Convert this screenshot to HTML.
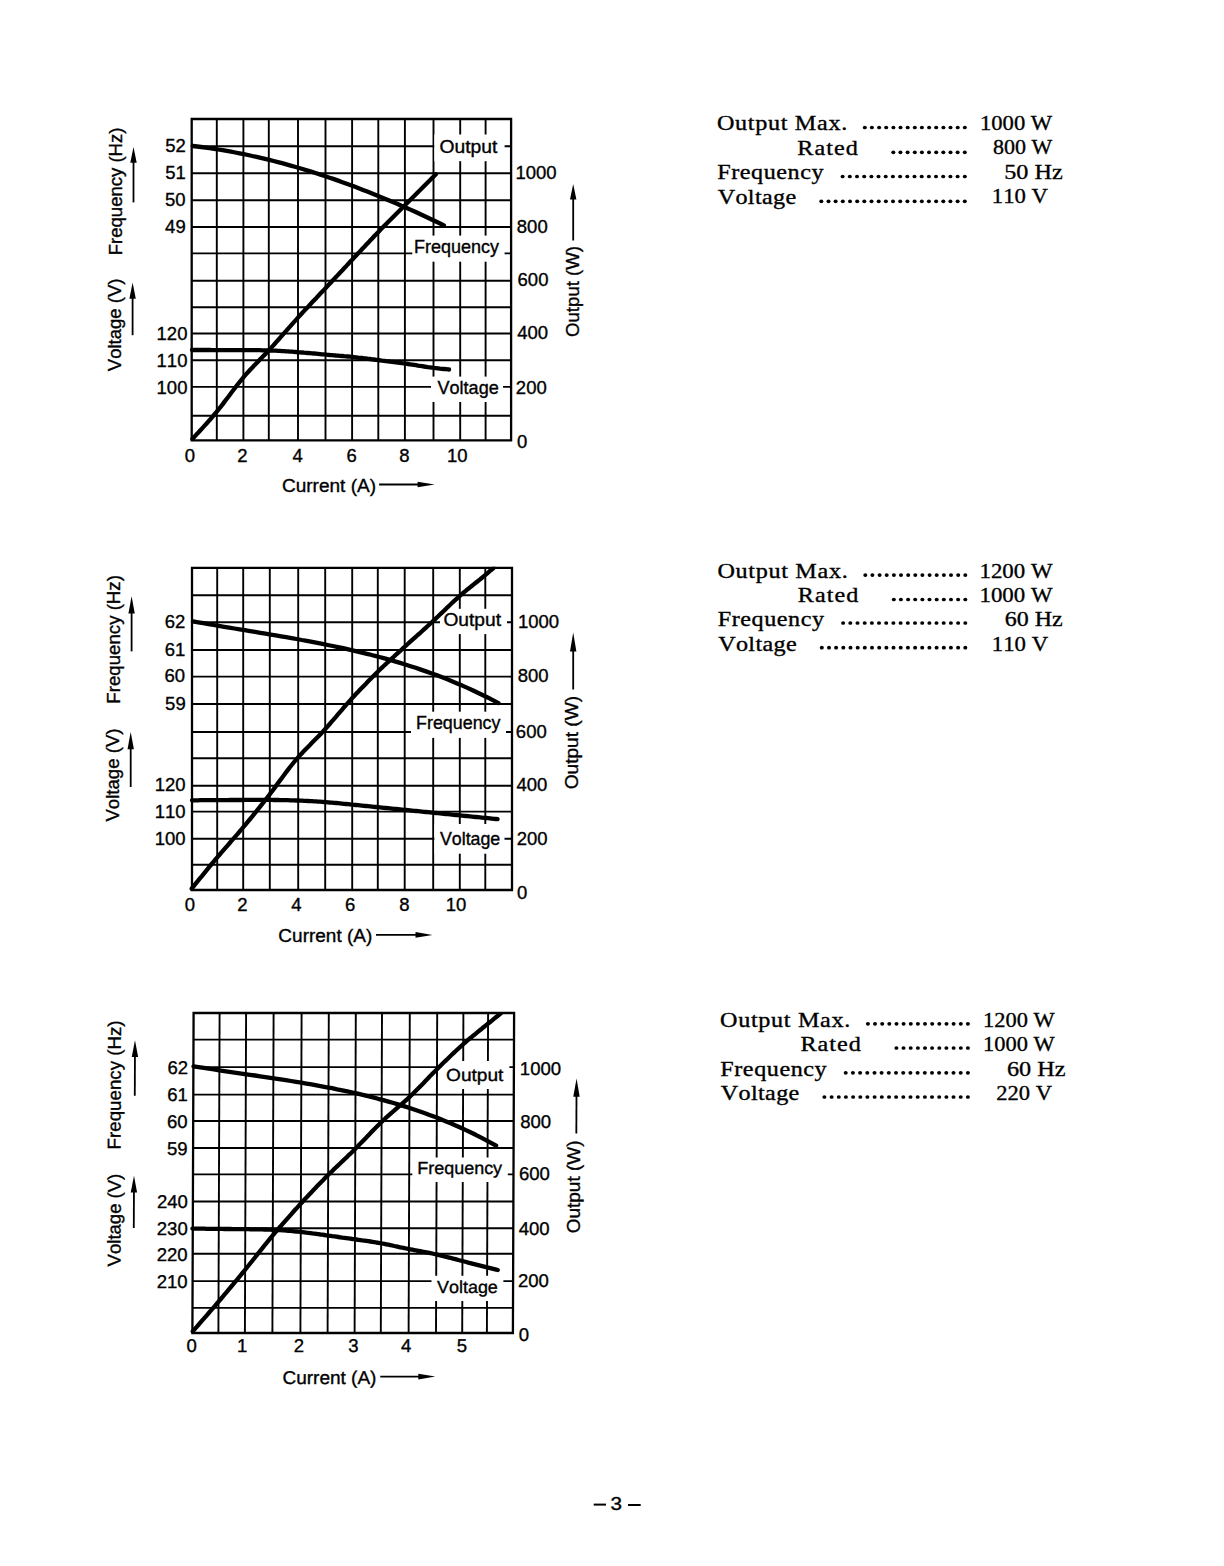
<!DOCTYPE html>
<html><head><meta charset="utf-8"><style>
html,body{margin:0;padding:0;background:#fff;}
svg{display:block;}
text{font-kerning:none;}
</style></head><body>
<svg width="1224" height="1566" viewBox="0 0 1224 1566">
<rect x="0" y="0" width="1224" height="1566" fill="#fff"/>
<g>
<line x1="216.80" y1="119.00" x2="216.80" y2="440.30" stroke="#000" stroke-width="1.9"/>
<line x1="243.40" y1="119.00" x2="243.40" y2="440.30" stroke="#000" stroke-width="1.9"/>
<line x1="268.80" y1="119.00" x2="268.80" y2="440.30" stroke="#000" stroke-width="1.9"/>
<line x1="298.00" y1="119.00" x2="298.00" y2="440.30" stroke="#000" stroke-width="1.9"/>
<line x1="325.50" y1="119.00" x2="325.50" y2="440.30" stroke="#000" stroke-width="1.9"/>
<line x1="352.10" y1="119.00" x2="352.10" y2="440.30" stroke="#000" stroke-width="1.9"/>
<line x1="378.30" y1="119.00" x2="378.30" y2="440.30" stroke="#000" stroke-width="1.9"/>
<line x1="404.90" y1="119.00" x2="404.90" y2="440.30" stroke="#000" stroke-width="1.9"/>
<line x1="433.50" y1="119.00" x2="433.50" y2="440.30" stroke="#000" stroke-width="1.9"/>
<line x1="460.20" y1="119.00" x2="460.20" y2="440.30" stroke="#000" stroke-width="1.9"/>
<line x1="485.60" y1="119.00" x2="485.60" y2="440.30" stroke="#000" stroke-width="1.9"/>
<line x1="191.70" y1="146.20" x2="511.10" y2="146.20" stroke="#000" stroke-width="1.9"/>
<line x1="191.70" y1="173.30" x2="511.10" y2="173.30" stroke="#000" stroke-width="1.9"/>
<line x1="191.70" y1="200.20" x2="511.10" y2="200.20" stroke="#000" stroke-width="1.9"/>
<line x1="191.70" y1="227.00" x2="511.10" y2="227.00" stroke="#000" stroke-width="1.9"/>
<line x1="191.70" y1="253.40" x2="511.10" y2="253.40" stroke="#000" stroke-width="1.9"/>
<line x1="191.70" y1="280.70" x2="511.10" y2="280.70" stroke="#000" stroke-width="1.9"/>
<line x1="191.70" y1="307.30" x2="511.10" y2="307.30" stroke="#000" stroke-width="1.9"/>
<line x1="191.70" y1="333.50" x2="511.10" y2="333.50" stroke="#000" stroke-width="1.9"/>
<line x1="191.70" y1="360.30" x2="511.10" y2="360.30" stroke="#000" stroke-width="1.9"/>
<line x1="191.70" y1="386.90" x2="511.10" y2="386.90" stroke="#000" stroke-width="1.9"/>
<line x1="191.70" y1="415.70" x2="511.10" y2="415.70" stroke="#000" stroke-width="1.9"/>
<path d="M191.7,119 L511.1,119 L511.1,440.3 L191.7,440.3 Z" fill="none" stroke="#000" stroke-width="2.3"/>
<rect x="434.3" y="134.5" width="70.3" height="26.7" fill="#fff"/>
<rect x="412.3" y="235.6" width="92.3" height="26.1" fill="#fff"/>
<rect x="431.0" y="376.6" width="72.0" height="25.4" fill="#fff"/>
<path d="M192.7,146.0 L197.0,146.5 L201.2,147.0 L205.5,147.6 L209.7,148.2 L214.0,148.8 L218.2,149.5 L222.5,150.2 L226.8,150.9 L231.0,151.7 L235.3,152.5 L239.5,153.3 L243.8,154.2 L248.0,155.0 L252.3,156.0 L256.6,156.9 L260.8,157.9 L265.1,158.9 L269.3,159.9 L273.6,161.0 L277.9,162.1 L282.1,163.2 L286.4,164.4 L290.6,165.6 L294.9,166.8 L299.1,168.0 L303.4,169.3 L307.7,170.6 L311.9,171.9 L316.2,173.3 L320.4,174.6 L324.7,176.0 L328.9,177.5 L333.2,178.9 L337.5,180.4 L341.7,181.9 L346.0,183.5 L350.2,185.0 L354.5,186.6 L358.7,188.2 L363.0,189.9 L367.3,191.5 L371.5,193.2 L375.8,194.9 L380.0,196.7 L384.3,198.4 L388.6,200.2 L392.8,202.0 L397.1,203.8 L401.3,205.7 L405.6,207.5 L409.8,209.4 L414.1,211.3 L418.4,213.3 L422.6,215.2 L426.9,217.2 L431.1,219.2 L435.4,221.3 L439.6,223.3 L443.9,225.4" fill="none" stroke="#000" stroke-width="4.3" stroke-linecap="round" stroke-linejoin="round"/>
<clipPath id="clip119"><rect x="181.7" y="118.0" width="339.40000000000003" height="333.3"/></clipPath>
<g clip-path="url(#clip119)">
<path d="M192.4,439.0 L194.4,436.8 L196.4,434.6 L198.4,432.5 L200.4,430.3 L202.4,428.1 L204.4,425.9 L206.4,423.7 L208.4,421.4 L210.4,419.2 L212.4,416.9 L214.4,414.5 L216.4,412.1 L218.4,409.6 L220.4,407.1 L222.4,404.6 L224.4,401.9 L226.4,399.3 L228.4,396.7 L230.4,394.0 L232.4,391.3 L234.4,388.7 L236.4,386.1 L238.4,383.5 L240.4,381.0 L242.4,378.6 L244.4,376.2 L246.4,373.9 L248.4,371.7 L250.4,369.5 L252.4,367.4 L254.4,365.3 L256.4,363.3 L258.4,361.2 L260.4,359.1 L262.4,357.1 L264.4,355.0 L266.4,352.9 L268.4,350.7 L270.4,348.6 L272.4,346.4 L274.4,344.2 L276.4,341.9 L278.4,339.7 L280.4,337.4 L282.4,335.1 L284.4,332.9 L286.4,330.6 L288.4,328.3 L290.4,326.1 L292.4,323.8 L294.4,321.6 L296.4,319.4 L298.4,317.1 L300.4,315.0 L302.4,312.8 L304.4,310.6 L306.4,308.5 L308.4,306.4 L310.4,304.2 L312.4,302.1 L314.4,300.0 L316.4,297.9 L318.4,295.7 L320.4,293.6 L322.4,291.5 L324.4,289.4 L326.4,287.2 L328.4,285.1 L330.4,283.0 L332.4,280.8 L334.4,278.7 L336.4,276.6 L338.4,274.4 L340.4,272.3 L342.4,270.2 L344.4,268.0 L346.4,265.9 L348.4,263.7 L350.4,261.6 L352.4,259.5 L354.4,257.3 L356.4,255.2 L358.4,253.1 L360.4,250.9 L362.4,248.8 L364.4,246.7 L366.4,244.5 L368.4,242.4 L370.4,240.3 L372.4,238.2 L374.4,236.0 L376.4,234.0 L378.4,231.9 L380.4,229.8 L382.4,227.8 L384.4,225.7 L386.4,223.7 L388.4,221.7 L390.4,219.7 L392.4,217.7 L394.4,215.7 L396.4,213.7 L398.4,211.7 L400.4,209.7 L402.4,207.7 L404.4,205.7 L406.4,203.7 L408.4,201.7 L410.4,199.7 L412.4,197.7 L414.4,195.7 L416.4,193.7 L418.4,191.7 L420.4,189.8 L422.4,187.8 L424.4,185.8 L426.4,183.8 L428.4,181.8 L430.4,179.8 L432.4,177.7 L434.4,175.7 L435.9,174.2" fill="none" stroke="#000" stroke-width="4.3" stroke-linecap="round" stroke-linejoin="round"/>
</g>
<path d="M192.0,350.0 L194.0,350.0 L196.0,350.0 L198.0,350.0 L200.0,350.0 L202.0,350.0 L204.0,350.0 L206.0,350.0 L208.0,350.0 L210.0,350.0 L212.0,350.1 L214.0,350.1 L216.0,350.1 L218.0,350.1 L220.0,350.1 L222.0,350.1 L224.0,350.1 L226.0,350.1 L228.0,350.1 L230.0,350.1 L232.0,350.1 L234.0,350.1 L236.0,350.1 L238.0,350.1 L240.0,350.1 L242.0,350.1 L244.0,350.1 L246.0,350.1 L248.0,350.1 L250.0,350.2 L252.0,350.2 L254.0,350.2 L256.0,350.2 L258.0,350.2 L260.0,350.2 L262.0,350.3 L264.0,350.3 L266.0,350.4 L268.0,350.4 L270.0,350.5 L272.0,350.6 L274.0,350.6 L276.0,350.7 L278.0,350.8 L280.0,350.9 L282.0,351.1 L284.0,351.2 L286.0,351.3 L288.0,351.4 L290.0,351.6 L292.0,351.7 L294.0,351.8 L296.0,352.0 L298.0,352.2 L300.0,352.3 L302.0,352.5 L304.0,352.7 L306.0,352.8 L308.0,353.0 L310.0,353.2 L312.0,353.4 L314.0,353.5 L316.0,353.7 L318.0,353.9 L320.0,354.1 L322.0,354.3 L324.0,354.4 L326.0,354.6 L328.0,354.8 L330.0,355.0 L332.0,355.1 L334.0,355.3 L336.0,355.5 L338.0,355.6 L340.0,355.8 L342.0,356.0 L344.0,356.2 L346.0,356.3 L348.0,356.5 L350.0,356.7 L352.0,356.9 L354.0,357.1 L356.0,357.3 L358.0,357.6 L360.0,357.8 L362.0,358.0 L364.0,358.3 L366.0,358.5 L368.0,358.8 L370.0,359.0 L372.0,359.3 L374.0,359.5 L376.0,359.8 L378.0,360.0 L380.0,360.3 L382.0,360.6 L384.0,360.8 L386.0,361.1 L388.0,361.3 L390.0,361.6 L392.0,361.8 L394.0,362.1 L396.0,362.3 L398.0,362.6 L400.0,362.9 L402.0,363.2 L404.0,363.4 L406.0,363.7 L408.0,364.0 L410.0,364.3 L412.0,364.6 L414.0,364.9 L416.0,365.2 L418.0,365.6 L420.0,365.9 L422.0,366.2 L424.0,366.5 L426.0,366.8 L428.0,367.1 L430.0,367.3 L432.0,367.6 L434.0,367.9 L436.0,368.1 L438.0,368.3 L440.0,368.6 L442.0,368.8 L444.0,369.0 L446.0,369.2 L448.0,369.4 L449.0,369.5" fill="none" stroke="#000" stroke-width="4.3" stroke-linecap="round" stroke-linejoin="round"/>
<text transform="translate(439.49 152.90) scale(1.1013 1)" font-family='"Liberation Sans", sans-serif' font-weight="normal" font-size="17.5" letter-spacing="0.000" stroke="#000" stroke-width="0.35">Output</text>
<text transform="translate(414.03 252.70) scale(1.0270 1)" font-family='"Liberation Sans", sans-serif' font-weight="normal" font-size="17.5" letter-spacing="0.000" stroke="#000" stroke-width="0.35">Frequency</text>
<text transform="translate(437.52 393.80) scale(1.0325 1)" font-family='"Liberation Sans", sans-serif' font-weight="normal" font-size="17.5" letter-spacing="0.000" stroke="#000" stroke-width="0.35">Voltage</text>
<text transform="translate(165.15 152.46) scale(1.0000 1)" font-family='"Liberation Sans", sans-serif' font-weight="normal" font-size="18.5" letter-spacing="0.000" stroke="#000" stroke-width="0.35">52</text>
<text transform="translate(165.13 179.36) scale(1.0000 1)" font-family='"Liberation Sans", sans-serif' font-weight="normal" font-size="18.5" letter-spacing="0.000" stroke="#000" stroke-width="0.35">51</text>
<text transform="translate(164.95 206.46) scale(1.0000 1)" font-family='"Liberation Sans", sans-serif' font-weight="normal" font-size="18.5" letter-spacing="0.000" stroke="#000" stroke-width="0.35">50</text>
<text transform="translate(165.10 233.46) scale(1.0000 1)" font-family='"Liberation Sans", sans-serif' font-weight="normal" font-size="18.5" letter-spacing="0.000" stroke="#000" stroke-width="0.35">49</text>
<text transform="translate(156.56 340.26) scale(1.0000 1)" font-family='"Liberation Sans", sans-serif' font-weight="normal" font-size="18.5" letter-spacing="0.000" stroke="#000" stroke-width="0.35">120</text>
<text transform="translate(156.56 366.56) scale(1.0000 1)" font-family='"Liberation Sans", sans-serif' font-weight="normal" font-size="18.5" letter-spacing="0.000" stroke="#000" stroke-width="0.35">110</text>
<text transform="translate(156.56 393.86) scale(1.0000 1)" font-family='"Liberation Sans", sans-serif' font-weight="normal" font-size="18.5" letter-spacing="0.000" stroke="#000" stroke-width="0.35">100</text>
<text transform="translate(515.39 179.46) scale(1.0000 1)" font-family='"Liberation Sans", sans-serif' font-weight="normal" font-size="18.5" letter-spacing="0.000" stroke="#000" stroke-width="0.35">1000</text>
<text transform="translate(516.80 233.46) scale(1.0000 1)" font-family='"Liberation Sans", sans-serif' font-weight="normal" font-size="18.5" letter-spacing="0.000" stroke="#000" stroke-width="0.35">800</text>
<text transform="translate(517.56 286.46) scale(1.0000 1)" font-family='"Liberation Sans", sans-serif' font-weight="normal" font-size="18.5" letter-spacing="0.000" stroke="#000" stroke-width="0.35">600</text>
<text transform="translate(517.18 339.46) scale(1.0000 1)" font-family='"Liberation Sans", sans-serif' font-weight="normal" font-size="18.5" letter-spacing="0.000" stroke="#000" stroke-width="0.35">400</text>
<text transform="translate(515.87 394.46) scale(1.0000 1)" font-family='"Liberation Sans", sans-serif' font-weight="normal" font-size="18.5" letter-spacing="0.000" stroke="#000" stroke-width="0.35">200</text>
<text transform="translate(516.88 448.46) scale(1.0000 1)" font-family='"Liberation Sans", sans-serif' font-weight="normal" font-size="18.5" letter-spacing="0.000" stroke="#000" stroke-width="0.35">0</text>
<text transform="translate(184.66 462.00) scale(1.0000 1)" font-family='"Liberation Sans", sans-serif' font-weight="normal" font-size="18.5" letter-spacing="0.000" stroke="#000" stroke-width="0.35">0</text>
<text transform="translate(237.36 461.50) scale(1.0000 1)" font-family='"Liberation Sans", sans-serif' font-weight="normal" font-size="18.5" letter-spacing="0.000" stroke="#000" stroke-width="0.35">2</text>
<text transform="translate(292.51 461.50) scale(1.0000 1)" font-family='"Liberation Sans", sans-serif' font-weight="normal" font-size="18.5" letter-spacing="0.000" stroke="#000" stroke-width="0.35">4</text>
<text transform="translate(346.39 461.50) scale(1.0000 1)" font-family='"Liberation Sans", sans-serif' font-weight="normal" font-size="18.5" letter-spacing="0.000" stroke="#000" stroke-width="0.35">6</text>
<text transform="translate(399.16 461.50) scale(1.0000 1)" font-family='"Liberation Sans", sans-serif' font-weight="normal" font-size="18.5" letter-spacing="0.000" stroke="#000" stroke-width="0.35">8</text>
<text transform="translate(446.97 461.50) scale(1.0000 1)" font-family='"Liberation Sans", sans-serif' font-weight="normal" font-size="18.5" letter-spacing="0.000" stroke="#000" stroke-width="0.35">10</text>
<text transform="translate(121.80 255.22) rotate(-90) scale(1.0015 1)" font-family='"Liberation Sans", sans-serif' font-size="18.5" stroke="#000" stroke-width="0.35">Frequency (Hz)</text>
<text transform="translate(120.80 371.18) rotate(-90) scale(1.0020 1)" font-family='"Liberation Sans", sans-serif' font-size="18.5" stroke="#000" stroke-width="0.35">Voltage (V)</text>
<text transform="translate(578.80 336.98) rotate(-90) scale(1.0075 1)" font-family='"Liberation Sans", sans-serif' font-size="18.5" stroke="#000" stroke-width="0.35">Output (W)</text>
<line x1="133.50" y1="160.70" x2="133.50" y2="202.40" stroke="#000" stroke-width="1.8"/>
<path d="M133.5,146.9 L136.7,162.7 L130.3,162.7 Z" fill="#000"/>
<line x1="132.60" y1="296.80" x2="132.60" y2="335.20" stroke="#000" stroke-width="1.8"/>
<path d="M132.6,282.5 L135.8,298.8 L129.4,298.8 Z" fill="#000"/>
<line x1="573.20" y1="197.60" x2="573.20" y2="240.50" stroke="#000" stroke-width="1.8"/>
<path d="M573.2,184.1 L576.4,199.6 L570.0,199.6 Z" fill="#000"/>
<text transform="translate(281.93 491.50) scale(1.0291 1)" font-family='"Liberation Sans", sans-serif' font-weight="normal" font-size="18.5" letter-spacing="0.000" stroke="#000" stroke-width="0.35">Current (A)</text>
<line x1="379.10" y1="484.50" x2="424.60" y2="484.50" stroke="#000" stroke-width="1.8"/>
<path d="M434.6,484.5 L417.6,481.7 L417.6,487.3 Z" fill="#000"/>
</g>
<g>
<line x1="217.20" y1="567.80" x2="217.20" y2="890.00" stroke="#000" stroke-width="1.9"/>
<line x1="243.20" y1="567.80" x2="243.20" y2="890.00" stroke="#000" stroke-width="1.9"/>
<line x1="269.80" y1="567.80" x2="269.80" y2="890.00" stroke="#000" stroke-width="1.9"/>
<line x1="298.20" y1="567.80" x2="298.20" y2="890.00" stroke="#000" stroke-width="1.9"/>
<line x1="325.20" y1="567.80" x2="325.20" y2="890.00" stroke="#000" stroke-width="1.9"/>
<line x1="352.20" y1="567.80" x2="352.20" y2="890.00" stroke="#000" stroke-width="1.9"/>
<line x1="377.80" y1="567.80" x2="377.80" y2="890.00" stroke="#000" stroke-width="1.9"/>
<line x1="404.70" y1="567.80" x2="404.70" y2="890.00" stroke="#000" stroke-width="1.9"/>
<line x1="433.20" y1="567.80" x2="433.20" y2="890.00" stroke="#000" stroke-width="1.9"/>
<line x1="459.80" y1="567.80" x2="459.80" y2="890.00" stroke="#000" stroke-width="1.9"/>
<line x1="485.30" y1="567.80" x2="485.30" y2="890.00" stroke="#000" stroke-width="1.9"/>
<line x1="192.00" y1="595.30" x2="512.00" y2="595.30" stroke="#000" stroke-width="1.9"/>
<line x1="192.00" y1="622.20" x2="512.00" y2="622.20" stroke="#000" stroke-width="1.9"/>
<line x1="192.00" y1="650.00" x2="512.00" y2="650.00" stroke="#000" stroke-width="1.9"/>
<line x1="192.00" y1="676.60" x2="512.00" y2="676.60" stroke="#000" stroke-width="1.9"/>
<line x1="192.00" y1="704.00" x2="512.00" y2="704.00" stroke="#000" stroke-width="1.9"/>
<line x1="192.00" y1="732.00" x2="512.00" y2="732.00" stroke="#000" stroke-width="1.9"/>
<line x1="192.00" y1="758.20" x2="512.00" y2="758.20" stroke="#000" stroke-width="1.9"/>
<line x1="192.00" y1="785.70" x2="512.00" y2="785.70" stroke="#000" stroke-width="1.9"/>
<line x1="192.00" y1="811.60" x2="512.00" y2="811.60" stroke="#000" stroke-width="1.9"/>
<line x1="192.00" y1="838.70" x2="512.00" y2="838.70" stroke="#000" stroke-width="1.9"/>
<line x1="192.00" y1="864.70" x2="512.00" y2="864.70" stroke="#000" stroke-width="1.9"/>
<path d="M192,567.8 L512,567.8 L512,890 L192,890 Z" fill="none" stroke="#000" stroke-width="2.3"/>
<rect x="440.0" y="608.8" width="67.0" height="25.3" fill="#fff"/>
<rect x="411.0" y="711.7" width="95.0" height="26.2" fill="#fff"/>
<rect x="434.4" y="824.0" width="70.1" height="29.7" fill="#fff"/>
<path d="M193.0,621.4 L198.2,622.3 L203.4,623.2 L208.5,624.1 L213.7,625.0 L218.9,625.9 L224.1,626.8 L229.2,627.6 L234.4,628.5 L239.6,629.4 L244.8,630.2 L250.0,631.1 L255.1,631.9 L260.3,632.8 L265.5,633.7 L270.7,634.5 L275.8,635.4 L281.0,636.3 L286.2,637.2 L291.4,638.1 L296.6,639.0 L301.7,640.0 L306.9,640.9 L312.1,641.9 L317.3,642.9 L322.4,643.9 L327.6,645.0 L332.8,646.0 L338.0,647.1 L343.2,648.2 L348.3,649.4 L353.5,650.6 L358.7,651.8 L363.9,653.1 L369.1,654.3 L374.2,655.7 L379.4,657.0 L384.6,658.4 L389.8,659.9 L394.9,661.4 L400.1,662.9 L405.3,664.5 L410.5,666.2 L415.7,667.8 L420.8,669.6 L426.0,671.4 L431.2,673.2 L436.4,675.1 L441.5,677.1 L446.7,679.1 L451.9,681.2 L457.1,683.4 L462.3,685.6 L467.4,687.9 L472.6,690.2 L477.8,692.7 L483.0,695.2 L488.1,697.7 L493.3,700.4 L498.5,703.1" fill="none" stroke="#000" stroke-width="4.3" stroke-linecap="round" stroke-linejoin="round"/>
<clipPath id="clip567"><rect x="182" y="566.8" width="340" height="334.20000000000005"/></clipPath>
<g clip-path="url(#clip567)">
<path d="M191.7,888.7 L193.7,886.2 L195.7,883.7 L197.7,881.2 L199.7,878.7 L201.7,876.3 L203.7,873.8 L205.7,871.3 L207.7,868.9 L209.7,866.4 L211.7,864.0 L213.7,861.6 L215.7,859.2 L217.7,856.9 L219.7,854.5 L221.7,852.2 L223.7,849.9 L225.7,847.6 L227.7,845.3 L229.7,843.0 L231.7,840.7 L233.7,838.4 L235.7,836.1 L237.7,833.8 L239.7,831.4 L241.7,829.1 L243.7,826.7 L245.7,824.3 L247.7,821.9 L249.7,819.5 L251.7,817.1 L253.7,814.6 L255.7,812.2 L257.7,809.7 L259.7,807.2 L261.7,804.7 L263.7,802.2 L265.7,799.6 L267.7,797.0 L269.7,794.4 L271.7,791.7 L273.7,789.1 L275.7,786.4 L277.7,783.6 L279.7,780.9 L281.7,778.2 L283.7,775.5 L285.7,772.8 L287.7,770.1 L289.7,767.5 L291.7,765.0 L293.7,762.5 L295.7,760.1 L297.7,757.8 L299.7,755.5 L301.7,753.4 L303.7,751.3 L305.7,749.2 L307.7,747.2 L309.7,745.2 L311.7,743.1 L313.7,741.1 L315.7,739.1 L317.7,737.1 L319.7,735.0 L321.7,732.9 L323.7,730.7 L325.7,728.5 L327.7,726.3 L329.7,724.0 L331.7,721.7 L333.7,719.4 L335.7,717.1 L337.7,714.7 L339.7,712.4 L341.7,710.1 L343.7,707.7 L345.7,705.4 L347.7,703.1 L349.7,700.9 L351.7,698.6 L353.7,696.5 L355.7,694.3 L357.7,692.2 L359.7,690.1 L361.7,688.0 L363.7,685.9 L365.7,683.9 L367.7,681.8 L369.7,679.8 L371.7,677.7 L373.7,675.7 L375.7,673.7 L377.7,671.8 L379.7,669.8 L381.7,667.9 L383.7,666.0 L385.7,664.2 L387.7,662.3 L389.7,660.5 L391.7,658.6 L393.7,656.8 L395.7,654.9 L397.7,653.1 L399.7,651.3 L401.7,649.5 L403.7,647.7 L405.7,645.8 L407.7,644.0 L409.7,642.2 L411.7,640.4 L413.7,638.6 L415.7,636.8 L417.7,635.0 L419.7,633.3 L421.7,631.5 L423.7,629.7 L425.7,627.9 L427.7,626.0 L429.7,624.2 L431.7,622.4 L433.7,620.5 L435.7,618.6 L437.7,616.7 L439.7,614.8 L441.7,612.9 L443.7,611.0 L445.7,609.1 L447.7,607.1 L449.7,605.2 L451.7,603.3 L453.7,601.4 L455.7,599.6 L457.7,597.8 L459.7,596.0 L461.7,594.2 L463.7,592.5 L465.7,590.9 L467.7,589.2 L469.7,587.6 L471.7,586.0 L473.7,584.4 L475.7,582.8 L477.7,581.2 L479.7,579.6 L481.7,578.0 L483.7,576.3 L485.7,574.6 L487.7,573.0 L489.7,571.2 L491.7,569.5 L493.7,567.8" fill="none" stroke="#000" stroke-width="4.3" stroke-linecap="round" stroke-linejoin="round"/>
</g>
<path d="M192.0,800.3 L194.0,800.3 L196.0,800.3 L198.0,800.3 L200.0,800.2 L202.0,800.2 L204.0,800.2 L206.0,800.2 L208.0,800.2 L210.0,800.2 L212.0,800.2 L214.0,800.2 L216.0,800.1 L218.0,800.1 L220.0,800.1 L222.0,800.1 L224.0,800.1 L226.0,800.1 L228.0,800.1 L230.0,800.0 L232.0,800.0 L234.0,800.0 L236.0,800.0 L238.0,800.0 L240.0,800.0 L242.0,800.0 L244.0,799.9 L246.0,799.9 L248.0,799.9 L250.0,799.9 L252.0,799.9 L254.0,799.9 L256.0,799.9 L258.0,799.9 L260.0,799.9 L262.0,799.9 L264.0,799.9 L266.0,799.9 L268.0,799.9 L270.0,799.9 L272.0,799.9 L274.0,800.0 L276.0,800.0 L278.0,800.0 L280.0,800.1 L282.0,800.1 L284.0,800.1 L286.0,800.2 L288.0,800.2 L290.0,800.3 L292.0,800.3 L294.0,800.4 L296.0,800.5 L298.0,800.5 L300.0,800.6 L302.0,800.7 L304.0,800.8 L306.0,800.9 L308.0,801.0 L310.0,801.1 L312.0,801.2 L314.0,801.3 L316.0,801.4 L318.0,801.6 L320.0,801.7 L322.0,801.8 L324.0,802.0 L326.0,802.1 L328.0,802.3 L330.0,802.5 L332.0,802.6 L334.0,802.8 L336.0,803.0 L338.0,803.2 L340.0,803.4 L342.0,803.6 L344.0,803.8 L346.0,804.0 L348.0,804.2 L350.0,804.4 L352.0,804.6 L354.0,804.8 L356.0,805.0 L358.0,805.2 L360.0,805.4 L362.0,805.6 L364.0,805.8 L366.0,806.0 L368.0,806.2 L370.0,806.4 L372.0,806.6 L374.0,806.8 L376.0,807.0 L378.0,807.2 L380.0,807.4 L382.0,807.6 L384.0,807.8 L386.0,808.0 L388.0,808.2 L390.0,808.4 L392.0,808.6 L394.0,808.8 L396.0,809.0 L398.0,809.2 L400.0,809.4 L402.0,809.6 L404.0,809.8 L406.0,810.0 L408.0,810.2 L410.0,810.4 L412.0,810.6 L414.0,810.8 L416.0,811.0 L418.0,811.2 L420.0,811.4 L422.0,811.6 L424.0,811.8 L426.0,812.0 L428.0,812.2 L430.0,812.4 L432.0,812.6 L434.0,812.8 L436.0,813.0 L438.0,813.2 L440.0,813.4 L442.0,813.6 L444.0,813.8 L446.0,814.0 L448.0,814.2 L450.0,814.4 L452.0,814.6 L454.0,814.8 L456.0,815.0 L458.0,815.2 L460.0,815.4 L462.0,815.6 L464.0,815.8 L466.0,816.0 L468.0,816.2 L470.0,816.4 L472.0,816.6 L474.0,816.8 L476.0,817.0 L478.0,817.2 L480.0,817.4 L482.0,817.6 L484.0,817.8 L486.0,818.0 L488.0,818.2 L490.0,818.4 L492.0,818.6 L494.0,818.8 L496.0,819.0 L497.5,819.2" fill="none" stroke="#000" stroke-width="4.3" stroke-linecap="round" stroke-linejoin="round"/>
<text transform="translate(443.39 626.20) scale(1.0974 1)" font-family='"Liberation Sans", sans-serif' font-weight="normal" font-size="17.5" letter-spacing="0.000" stroke="#000" stroke-width="0.35">Output</text>
<text transform="translate(416.03 728.90) scale(1.0220 1)" font-family='"Liberation Sans", sans-serif' font-weight="normal" font-size="17.5" letter-spacing="0.000" stroke="#000" stroke-width="0.35">Frequency</text>
<text transform="translate(439.92 844.60) scale(1.0171 1)" font-family='"Liberation Sans", sans-serif' font-weight="normal" font-size="17.5" letter-spacing="0.000" stroke="#000" stroke-width="0.35">Voltage</text>
<text transform="translate(164.65 628.46) scale(1.0000 1)" font-family='"Liberation Sans", sans-serif' font-weight="normal" font-size="18.5" letter-spacing="0.000" stroke="#000" stroke-width="0.35">62</text>
<text transform="translate(164.63 655.66) scale(1.0000 1)" font-family='"Liberation Sans", sans-serif' font-weight="normal" font-size="18.5" letter-spacing="0.000" stroke="#000" stroke-width="0.35">61</text>
<text transform="translate(164.45 682.36) scale(1.0000 1)" font-family='"Liberation Sans", sans-serif' font-weight="normal" font-size="18.5" letter-spacing="0.000" stroke="#000" stroke-width="0.35">60</text>
<text transform="translate(165.10 710.06) scale(1.0000 1)" font-family='"Liberation Sans", sans-serif' font-weight="normal" font-size="18.5" letter-spacing="0.000" stroke="#000" stroke-width="0.35">59</text>
<text transform="translate(154.66 791.16) scale(1.0000 1)" font-family='"Liberation Sans", sans-serif' font-weight="normal" font-size="18.5" letter-spacing="0.000" stroke="#000" stroke-width="0.35">120</text>
<text transform="translate(154.66 817.96) scale(1.0000 1)" font-family='"Liberation Sans", sans-serif' font-weight="normal" font-size="18.5" letter-spacing="0.000" stroke="#000" stroke-width="0.35">110</text>
<text transform="translate(154.66 844.76) scale(1.0000 1)" font-family='"Liberation Sans", sans-serif' font-weight="normal" font-size="18.5" letter-spacing="0.000" stroke="#000" stroke-width="0.35">100</text>
<text transform="translate(517.89 628.46) scale(1.0000 1)" font-family='"Liberation Sans", sans-serif' font-weight="normal" font-size="18.5" letter-spacing="0.000" stroke="#000" stroke-width="0.35">1000</text>
<text transform="translate(517.70 682.36) scale(1.0000 1)" font-family='"Liberation Sans", sans-serif' font-weight="normal" font-size="18.5" letter-spacing="0.000" stroke="#000" stroke-width="0.35">800</text>
<text transform="translate(515.86 737.96) scale(1.0000 1)" font-family='"Liberation Sans", sans-serif' font-weight="normal" font-size="18.5" letter-spacing="0.000" stroke="#000" stroke-width="0.35">600</text>
<text transform="translate(516.38 790.96) scale(1.0000 1)" font-family='"Liberation Sans", sans-serif' font-weight="normal" font-size="18.5" letter-spacing="0.000" stroke="#000" stroke-width="0.35">400</text>
<text transform="translate(516.67 845.46) scale(1.0000 1)" font-family='"Liberation Sans", sans-serif' font-weight="normal" font-size="18.5" letter-spacing="0.000" stroke="#000" stroke-width="0.35">200</text>
<text transform="translate(516.88 899.46) scale(1.0000 1)" font-family='"Liberation Sans", sans-serif' font-weight="normal" font-size="18.5" letter-spacing="0.000" stroke="#000" stroke-width="0.35">0</text>
<text transform="translate(184.66 910.80) scale(1.0000 1)" font-family='"Liberation Sans", sans-serif' font-weight="normal" font-size="18.5" letter-spacing="0.000" stroke="#000" stroke-width="0.35">0</text>
<text transform="translate(237.36 910.80) scale(1.0000 1)" font-family='"Liberation Sans", sans-serif' font-weight="normal" font-size="18.5" letter-spacing="0.000" stroke="#000" stroke-width="0.35">2</text>
<text transform="translate(291.31 910.80) scale(1.0000 1)" font-family='"Liberation Sans", sans-serif' font-weight="normal" font-size="18.5" letter-spacing="0.000" stroke="#000" stroke-width="0.35">4</text>
<text transform="translate(345.09 910.80) scale(1.0000 1)" font-family='"Liberation Sans", sans-serif' font-weight="normal" font-size="18.5" letter-spacing="0.000" stroke="#000" stroke-width="0.35">6</text>
<text transform="translate(399.16 910.80) scale(1.0000 1)" font-family='"Liberation Sans", sans-serif' font-weight="normal" font-size="18.5" letter-spacing="0.000" stroke="#000" stroke-width="0.35">8</text>
<text transform="translate(445.77 910.80) scale(1.0000 1)" font-family='"Liberation Sans", sans-serif' font-weight="normal" font-size="18.5" letter-spacing="0.000" stroke="#000" stroke-width="0.35">10</text>
<text transform="translate(119.90 703.73) rotate(-90) scale(1.0095 1)" font-family='"Liberation Sans", sans-serif' font-size="18.5" stroke="#000" stroke-width="0.35">Frequency (Hz)</text>
<text transform="translate(118.90 821.58) rotate(-90) scale(1.0064 1)" font-family='"Liberation Sans", sans-serif' font-size="18.5" stroke="#000" stroke-width="0.35">Voltage (V)</text>
<text transform="translate(577.60 789.31) rotate(-90) scale(1.0335 1)" font-family='"Liberation Sans", sans-serif' font-size="18.5" stroke="#000" stroke-width="0.35">Output (W)</text>
<line x1="131.60" y1="611.60" x2="131.60" y2="651.40" stroke="#000" stroke-width="1.8"/>
<path d="M131.6,596.3 L134.8,613.6 L128.4,613.6 Z" fill="#000"/>
<line x1="130.70" y1="747.20" x2="130.70" y2="787.00" stroke="#000" stroke-width="1.8"/>
<path d="M130.7,732.0 L133.9,749.2 L127.5,749.2 Z" fill="#000"/>
<line x1="573.20" y1="649.60" x2="573.20" y2="689.50" stroke="#000" stroke-width="1.8"/>
<path d="M573.2,632.6 L576.4,651.6 L570.0,651.6 Z" fill="#000"/>
<text transform="translate(278.33 941.50) scale(1.0279 1)" font-family='"Liberation Sans", sans-serif' font-weight="normal" font-size="18.5" letter-spacing="0.000" stroke="#000" stroke-width="0.35">Current (A)</text>
<line x1="376.00" y1="934.90" x2="422.50" y2="934.90" stroke="#000" stroke-width="1.8"/>
<path d="M432.5,934.9 L415.5,932.1 L415.5,937.7 Z" fill="#000"/>
</g>
<g transform="translate(0 1173.0) matrix(1 0 -0.00375 1 0 0) translate(0 -1173.0)">
<line x1="219.00" y1="1013.00" x2="219.00" y2="1333.00" stroke="#000" stroke-width="1.9"/>
<line x1="245.50" y1="1013.00" x2="245.50" y2="1333.00" stroke="#000" stroke-width="1.9"/>
<line x1="273.00" y1="1013.00" x2="273.00" y2="1333.00" stroke="#000" stroke-width="1.9"/>
<line x1="301.00" y1="1013.00" x2="301.00" y2="1333.00" stroke="#000" stroke-width="1.9"/>
<line x1="328.20" y1="1013.00" x2="328.20" y2="1333.00" stroke="#000" stroke-width="1.9"/>
<line x1="355.20" y1="1013.00" x2="355.20" y2="1333.00" stroke="#000" stroke-width="1.9"/>
<line x1="381.40" y1="1013.00" x2="381.40" y2="1333.00" stroke="#000" stroke-width="1.9"/>
<line x1="409.20" y1="1013.00" x2="409.20" y2="1333.00" stroke="#000" stroke-width="1.9"/>
<line x1="436.60" y1="1013.00" x2="436.60" y2="1333.00" stroke="#000" stroke-width="1.9"/>
<line x1="462.80" y1="1013.00" x2="462.80" y2="1333.00" stroke="#000" stroke-width="1.9"/>
<line x1="487.50" y1="1013.00" x2="487.50" y2="1333.00" stroke="#000" stroke-width="1.9"/>
<line x1="193.00" y1="1039.60" x2="513.50" y2="1039.60" stroke="#000" stroke-width="1.9"/>
<line x1="193.00" y1="1067.10" x2="513.50" y2="1067.10" stroke="#000" stroke-width="1.9"/>
<line x1="193.00" y1="1094.60" x2="513.50" y2="1094.60" stroke="#000" stroke-width="1.9"/>
<line x1="193.00" y1="1121.00" x2="513.50" y2="1121.00" stroke="#000" stroke-width="1.9"/>
<line x1="193.00" y1="1148.00" x2="513.50" y2="1148.00" stroke="#000" stroke-width="1.9"/>
<line x1="193.00" y1="1174.40" x2="513.50" y2="1174.40" stroke="#000" stroke-width="1.9"/>
<line x1="193.00" y1="1201.50" x2="513.50" y2="1201.50" stroke="#000" stroke-width="1.9"/>
<line x1="193.00" y1="1228.20" x2="513.50" y2="1228.20" stroke="#000" stroke-width="1.9"/>
<line x1="193.00" y1="1253.70" x2="513.50" y2="1253.70" stroke="#000" stroke-width="1.9"/>
<line x1="193.00" y1="1281.10" x2="513.50" y2="1281.10" stroke="#000" stroke-width="1.9"/>
<line x1="193.00" y1="1307.90" x2="513.50" y2="1307.90" stroke="#000" stroke-width="1.9"/>
<path d="M193,1013 L513.5,1013 L513.5,1333 L193,1333 Z" fill="none" stroke="#000" stroke-width="2.3"/>
<rect x="438.0" y="1061.0" width="71.0" height="28.0" fill="#fff"/>
<rect x="412.3" y="1157.4" width="95.5" height="24.5" fill="#fff"/>
<rect x="431.9" y="1275.8" width="71.9" height="25.3" fill="#fff"/>
<path d="M193.1,1066.3 L198.2,1067.1 L203.4,1067.9 L208.5,1068.7 L213.6,1069.5 L218.8,1070.3 L223.9,1071.1 L229.0,1071.8 L234.2,1072.6 L239.3,1073.3 L244.4,1074.1 L249.6,1074.8 L254.7,1075.5 L259.8,1076.3 L265.0,1077.1 L270.1,1077.8 L275.2,1078.6 L280.4,1079.4 L285.5,1080.2 L290.6,1081.0 L295.8,1081.8 L300.9,1082.7 L306.0,1083.6 L311.2,1084.4 L316.3,1085.4 L321.4,1086.3 L326.6,1087.3 L331.7,1088.2 L336.8,1089.3 L342.0,1090.3 L347.1,1091.4 L352.3,1092.5 L357.4,1093.7 L362.5,1094.9 L367.7,1096.2 L372.8,1097.4 L377.9,1098.8 L383.1,1100.1 L388.2,1101.6 L393.3,1103.0 L398.5,1104.6 L403.6,1106.1 L408.7,1107.8 L413.9,1109.5 L419.0,1111.2 L424.1,1113.0 L429.3,1114.9 L434.4,1116.8 L439.5,1118.8 L444.7,1120.9 L449.8,1123.0 L454.9,1125.2 L460.1,1127.5 L465.2,1129.9 L470.3,1132.3 L475.5,1134.8 L480.6,1137.4 L485.7,1140.1 L490.9,1142.8 L496.0,1145.7" fill="none" stroke="#000" stroke-width="4.3" stroke-linecap="round" stroke-linejoin="round"/>
<clipPath id="clip1013"><rect x="183" y="1012.0" width="340.5" height="332"/></clipPath>
<g clip-path="url(#clip1013)">
<path d="M193.3,1331.4 L195.3,1329.1 L197.3,1326.8 L199.3,1324.5 L201.3,1322.2 L203.3,1319.9 L205.3,1317.6 L207.3,1315.3 L209.3,1313.0 L211.3,1310.7 L213.3,1308.4 L215.3,1306.1 L217.3,1303.7 L219.3,1301.4 L221.3,1299.0 L223.3,1296.6 L225.3,1294.2 L227.3,1291.8 L229.3,1289.4 L231.3,1287.0 L233.3,1284.6 L235.3,1282.2 L237.3,1279.8 L239.3,1277.3 L241.3,1274.9 L243.3,1272.5 L245.3,1270.0 L247.3,1267.5 L249.3,1265.0 L251.3,1262.5 L253.3,1260.0 L255.3,1257.5 L257.3,1254.9 L259.3,1252.4 L261.3,1249.9 L263.3,1247.4 L265.3,1244.8 L267.3,1242.4 L269.3,1239.9 L271.3,1237.5 L273.3,1235.0 L275.3,1232.7 L277.3,1230.3 L279.3,1228.0 L281.3,1225.7 L283.3,1223.4 L285.3,1221.1 L287.3,1218.8 L289.3,1216.6 L291.3,1214.3 L293.3,1212.0 L295.3,1209.8 L297.3,1207.6 L299.3,1205.3 L301.3,1203.2 L303.3,1201.0 L305.3,1198.8 L307.3,1196.7 L309.3,1194.5 L311.3,1192.4 L313.3,1190.3 L315.3,1188.2 L317.3,1186.1 L319.3,1184.0 L321.3,1181.9 L323.3,1179.9 L325.3,1177.8 L327.3,1175.8 L329.3,1173.8 L331.3,1171.9 L333.3,1169.9 L335.3,1168.0 L337.3,1166.1 L339.3,1164.2 L341.3,1162.3 L343.3,1160.4 L345.3,1158.5 L347.3,1156.6 L349.3,1154.6 L351.3,1152.7 L353.3,1150.7 L355.3,1148.7 L357.3,1146.7 L359.3,1144.6 L361.3,1142.6 L363.3,1140.5 L365.3,1138.4 L367.3,1136.3 L369.3,1134.2 L371.3,1132.1 L373.3,1130.0 L375.3,1128.0 L377.3,1126.0 L379.3,1124.0 L381.3,1122.0 L383.3,1120.1 L385.3,1118.2 L387.3,1116.4 L389.3,1114.6 L391.3,1112.8 L393.3,1111.1 L395.3,1109.4 L397.3,1107.6 L399.3,1105.9 L401.3,1104.2 L403.3,1102.4 L405.3,1100.6 L407.3,1098.8 L409.3,1096.9 L411.3,1095.0 L413.3,1093.1 L415.3,1091.1 L417.3,1089.1 L419.3,1087.0 L421.3,1084.9 L423.3,1082.9 L425.3,1080.8 L427.3,1078.7 L429.3,1076.6 L431.3,1074.6 L433.3,1072.5 L435.3,1070.5 L437.3,1068.5 L439.3,1066.5 L441.3,1064.5 L443.3,1062.5 L445.3,1060.6 L447.3,1058.7 L449.3,1056.7 L451.3,1054.8 L453.3,1052.9 L455.3,1051.0 L457.3,1049.2 L459.3,1047.3 L461.3,1045.5 L463.3,1043.7 L465.3,1042.0 L467.3,1040.2 L469.3,1038.5 L471.3,1036.9 L473.3,1035.2 L475.3,1033.6 L477.3,1031.9 L479.3,1030.3 L481.3,1028.7 L483.3,1027.0 L485.3,1025.4 L487.3,1023.8 L489.3,1022.2 L491.3,1020.6 L493.3,1018.9 L495.3,1017.3 L497.3,1015.7 L499.3,1014.1 L500.3,1013.3" fill="none" stroke="#000" stroke-width="4.3" stroke-linecap="round" stroke-linejoin="round"/>
</g>
<path d="M192.6,1228.6 L194.6,1228.6 L196.6,1228.6 L198.6,1228.7 L200.6,1228.7 L202.6,1228.7 L204.6,1228.7 L206.6,1228.8 L208.6,1228.8 L210.6,1228.8 L212.6,1228.8 L214.6,1228.8 L216.6,1228.9 L218.6,1228.9 L220.6,1228.9 L222.6,1228.9 L224.6,1229.0 L226.6,1229.0 L228.6,1229.0 L230.6,1229.0 L232.6,1229.1 L234.6,1229.1 L236.6,1229.1 L238.6,1229.1 L240.6,1229.1 L242.6,1229.2 L244.6,1229.2 L246.6,1229.2 L248.6,1229.2 L250.6,1229.3 L252.6,1229.3 L254.6,1229.3 L256.6,1229.3 L258.6,1229.4 L260.6,1229.4 L262.6,1229.4 L264.6,1229.5 L266.6,1229.5 L268.6,1229.6 L270.6,1229.7 L272.6,1229.8 L274.6,1229.8 L276.6,1229.9 L278.6,1230.1 L280.6,1230.2 L282.6,1230.3 L284.6,1230.4 L286.6,1230.6 L288.6,1230.8 L290.6,1230.9 L292.6,1231.1 L294.6,1231.3 L296.6,1231.5 L298.6,1231.7 L300.6,1231.9 L302.6,1232.1 L304.6,1232.3 L306.6,1232.6 L308.6,1232.8 L310.6,1233.1 L312.6,1233.4 L314.6,1233.6 L316.6,1233.9 L318.6,1234.2 L320.6,1234.5 L322.6,1234.7 L324.6,1235.0 L326.6,1235.3 L328.6,1235.6 L330.6,1235.9 L332.6,1236.2 L334.6,1236.4 L336.6,1236.7 L338.6,1237.0 L340.6,1237.3 L342.6,1237.6 L344.6,1237.8 L346.6,1238.1 L348.6,1238.4 L350.6,1238.7 L352.6,1239.0 L354.6,1239.2 L356.6,1239.5 L358.6,1239.8 L360.6,1240.1 L362.6,1240.4 L364.6,1240.6 L366.6,1240.9 L368.6,1241.2 L370.6,1241.5 L372.6,1241.8 L374.6,1242.1 L376.6,1242.5 L378.6,1242.8 L380.6,1243.1 L382.6,1243.5 L384.6,1243.9 L386.6,1244.3 L388.6,1244.7 L390.6,1245.1 L392.6,1245.5 L394.6,1246.0 L396.6,1246.4 L398.6,1246.8 L400.6,1247.3 L402.6,1247.7 L404.6,1248.1 L406.6,1248.5 L408.6,1248.9 L410.6,1249.3 L412.6,1249.7 L414.6,1250.1 L416.6,1250.5 L418.6,1250.8 L420.6,1251.2 L422.6,1251.6 L424.6,1252.0 L426.6,1252.3 L428.6,1252.7 L430.6,1253.1 L432.6,1253.5 L434.6,1254.0 L436.6,1254.4 L438.6,1254.8 L440.6,1255.3 L442.6,1255.8 L444.6,1256.3 L446.6,1256.8 L448.6,1257.3 L450.6,1257.8 L452.6,1258.4 L454.6,1258.9 L456.6,1259.4 L458.6,1260.0 L460.6,1260.5 L462.6,1261.0 L464.6,1261.5 L466.6,1262.0 L468.6,1262.6 L470.6,1263.1 L472.6,1263.6 L474.6,1264.1 L476.6,1264.6 L478.6,1265.1 L480.6,1265.6 L482.6,1266.1 L484.6,1266.6 L486.6,1267.1 L488.6,1267.6 L490.6,1268.1 L492.6,1268.6 L494.6,1269.1 L496.6,1269.6 L498.1,1270.0" fill="none" stroke="#000" stroke-width="4.3" stroke-linecap="round" stroke-linejoin="round"/>
<text transform="translate(445.70 1080.50) scale(1.0916 1)" font-family='"Liberation Sans", sans-serif' font-weight="normal" font-size="17.5" letter-spacing="0.000" stroke="#000" stroke-width="0.35">Output</text>
<text transform="translate(417.33 1174.40) scale(1.0257 1)" font-family='"Liberation Sans", sans-serif' font-weight="normal" font-size="17.5" letter-spacing="0.000" stroke="#000" stroke-width="0.35">Frequency</text>
<text transform="translate(437.52 1292.50) scale(1.0240 1)" font-family='"Liberation Sans", sans-serif' font-weight="normal" font-size="17.5" letter-spacing="0.000" stroke="#000" stroke-width="0.35">Voltage</text>
<text transform="translate(167.05 1073.96) scale(1.0000 1)" font-family='"Liberation Sans", sans-serif' font-weight="normal" font-size="18.5" letter-spacing="0.000" stroke="#000" stroke-width="0.35">62</text>
<text transform="translate(167.03 1101.26) scale(1.0000 1)" font-family='"Liberation Sans", sans-serif' font-weight="normal" font-size="18.5" letter-spacing="0.000" stroke="#000" stroke-width="0.35">61</text>
<text transform="translate(166.85 1127.56) scale(1.0000 1)" font-family='"Liberation Sans", sans-serif' font-weight="normal" font-size="18.5" letter-spacing="0.000" stroke="#000" stroke-width="0.35">60</text>
<text transform="translate(167.00 1154.86) scale(1.0000 1)" font-family='"Liberation Sans", sans-serif' font-weight="normal" font-size="18.5" letter-spacing="0.000" stroke="#000" stroke-width="0.35">59</text>
<text transform="translate(157.06 1207.66) scale(1.0000 1)" font-family='"Liberation Sans", sans-serif' font-weight="normal" font-size="18.5" letter-spacing="0.000" stroke="#000" stroke-width="0.35">240</text>
<text transform="translate(157.06 1234.76) scale(1.0000 1)" font-family='"Liberation Sans", sans-serif' font-weight="normal" font-size="18.5" letter-spacing="0.000" stroke="#000" stroke-width="0.35">230</text>
<text transform="translate(157.06 1260.66) scale(1.0000 1)" font-family='"Liberation Sans", sans-serif' font-weight="normal" font-size="18.5" letter-spacing="0.000" stroke="#000" stroke-width="0.35">220</text>
<text transform="translate(157.06 1287.96) scale(1.0000 1)" font-family='"Liberation Sans", sans-serif' font-weight="normal" font-size="18.5" letter-spacing="0.000" stroke="#000" stroke-width="0.35">210</text>
<text transform="translate(519.49 1074.96) scale(1.0000 1)" font-family='"Liberation Sans", sans-serif' font-weight="normal" font-size="18.5" letter-spacing="0.000" stroke="#000" stroke-width="0.35">1000</text>
<text transform="translate(520.10 1128.16) scale(1.0000 1)" font-family='"Liberation Sans", sans-serif' font-weight="normal" font-size="18.5" letter-spacing="0.000" stroke="#000" stroke-width="0.35">800</text>
<text transform="translate(519.06 1180.06) scale(1.0000 1)" font-family='"Liberation Sans", sans-serif' font-weight="normal" font-size="18.5" letter-spacing="0.000" stroke="#000" stroke-width="0.35">600</text>
<text transform="translate(518.88 1234.96) scale(1.0000 1)" font-family='"Liberation Sans", sans-serif' font-weight="normal" font-size="18.5" letter-spacing="0.000" stroke="#000" stroke-width="0.35">400</text>
<text transform="translate(518.37 1286.76) scale(1.0000 1)" font-family='"Liberation Sans", sans-serif' font-weight="normal" font-size="18.5" letter-spacing="0.000" stroke="#000" stroke-width="0.35">200</text>
<text transform="translate(519.28 1341.46) scale(1.0000 1)" font-family='"Liberation Sans", sans-serif' font-weight="normal" font-size="18.5" letter-spacing="0.000" stroke="#000" stroke-width="0.35">0</text>
<text transform="translate(187.16 1352.00) scale(1.0000 1)" font-family='"Liberation Sans", sans-serif' font-weight="normal" font-size="18.5" letter-spacing="0.000" stroke="#000" stroke-width="0.35">0</text>
<text transform="translate(237.70 1352.00) scale(1.0000 1)" font-family='"Liberation Sans", sans-serif' font-weight="normal" font-size="18.5" letter-spacing="0.000" stroke="#000" stroke-width="0.35">1</text>
<text transform="translate(294.36 1352.00) scale(1.0000 1)" font-family='"Liberation Sans", sans-serif' font-weight="normal" font-size="18.5" letter-spacing="0.000" stroke="#000" stroke-width="0.35">2</text>
<text transform="translate(348.91 1352.00) scale(1.0000 1)" font-family='"Liberation Sans", sans-serif' font-weight="normal" font-size="18.5" letter-spacing="0.000" stroke="#000" stroke-width="0.35">3</text>
<text transform="translate(401.61 1352.00) scale(1.0000 1)" font-family='"Liberation Sans", sans-serif' font-weight="normal" font-size="18.5" letter-spacing="0.000" stroke="#000" stroke-width="0.35">4</text>
<text transform="translate(457.37 1352.00) scale(1.0000 1)" font-family='"Liberation Sans", sans-serif' font-weight="normal" font-size="18.5" letter-spacing="0.000" stroke="#000" stroke-width="0.35">5</text>
<text transform="translate(120.40 1149.44) rotate(-90) scale(1.0127 1)" font-family='"Liberation Sans", sans-serif' font-size="18.5" stroke="#000" stroke-width="0.35">Frequency (Hz)</text>
<text transform="translate(120.80 1266.38) rotate(-90) scale(1.0020 1)" font-family='"Liberation Sans", sans-serif' font-size="18.5" stroke="#000" stroke-width="0.35">Voltage (V)</text>
<text transform="translate(579.90 1233.30) rotate(-90) scale(1.0267 1)" font-family='"Liberation Sans", sans-serif' font-size="18.5" stroke="#000" stroke-width="0.35">Output (W)</text>
<line x1="134.50" y1="1054.90" x2="134.50" y2="1095.70" stroke="#000" stroke-width="1.8"/>
<path d="M134.5,1040.2 L137.7,1056.9 L131.3,1056.9 Z" fill="#000"/>
<line x1="134.00" y1="1190.60" x2="134.00" y2="1228.00" stroke="#000" stroke-width="1.8"/>
<path d="M134.0,1175.8 L137.2,1192.6 L130.8,1192.6 Z" fill="#000"/>
<line x1="576.20" y1="1094.80" x2="576.20" y2="1133.60" stroke="#000" stroke-width="1.8"/>
<path d="M576.2,1078.4 L579.4,1096.8 L573.0,1096.8 Z" fill="#000"/>
<text transform="translate(283.23 1383.90) scale(1.0279 1)" font-family='"Liberation Sans", sans-serif' font-weight="normal" font-size="18.5" letter-spacing="0.000" stroke="#000" stroke-width="0.35">Current (A)</text>
<line x1="381.00" y1="1376.60" x2="426.10" y2="1376.60" stroke="#000" stroke-width="1.8"/>
<path d="M436.1,1376.6 L419.1,1373.8 L419.1,1379.4 Z" fill="#000"/>
</g>
<text transform="translate(716.91 130.30) scale(1.1500 1)" font-family='"Liberation Serif", serif' font-weight="normal" font-size="21.0" letter-spacing="0.605" stroke="#000" stroke-width="0.35">Output Max.</text>
<text transform="translate(797.30 155.10) scale(1.1500 1)" font-family='"Liberation Serif", serif' font-weight="normal" font-size="21.0" letter-spacing="0.904" stroke="#000" stroke-width="0.35">Rated</text>
<text transform="translate(717.20 179.30) scale(1.1500 1)" font-family='"Liberation Serif", serif' font-weight="normal" font-size="21.0" letter-spacing="0.485" stroke="#000" stroke-width="0.35">Frequency</text>
<text transform="translate(717.63 204.10) scale(1.1500 1)" font-family='"Liberation Serif", serif' font-weight="normal" font-size="21.0" letter-spacing="0.313" stroke="#000" stroke-width="0.35">Voltage</text>
<text transform="translate(980.01 129.60) scale(1.0280 1)" font-family='"Liberation Serif", serif' font-weight="normal" font-size="22.0" letter-spacing="0.000" stroke="#000" stroke-width="0.35">1000 W</text>
<text transform="translate(992.96 154.40) scale(1.0003 1)" font-family='"Liberation Serif", serif' font-weight="normal" font-size="22.0" letter-spacing="0.000" stroke="#000" stroke-width="0.35">800 W</text>
<text transform="translate(1004.19 178.60) scale(1.1002 1)" font-family='"Liberation Serif", serif' font-weight="normal" font-size="22.0" letter-spacing="0.000" stroke="#000" stroke-width="0.35">50 Hz</text>
<text transform="translate(991.80 203.40) scale(1.0324 1)" font-family='"Liberation Serif", serif' font-weight="normal" font-size="22.0" letter-spacing="0.000" stroke="#000" stroke-width="0.35">110 V</text>
<ellipse cx="864.8" cy="127.5" rx="2.0" ry="1.85" fill="#000"/>
<ellipse cx="871.9" cy="127.5" rx="2.0" ry="1.85" fill="#000"/>
<ellipse cx="879.1" cy="127.5" rx="2.0" ry="1.85" fill="#000"/>
<ellipse cx="886.2" cy="127.5" rx="2.0" ry="1.85" fill="#000"/>
<ellipse cx="893.4" cy="127.5" rx="2.0" ry="1.85" fill="#000"/>
<ellipse cx="900.5" cy="127.5" rx="2.0" ry="1.85" fill="#000"/>
<ellipse cx="907.7" cy="127.5" rx="2.0" ry="1.85" fill="#000"/>
<ellipse cx="914.8" cy="127.5" rx="2.0" ry="1.85" fill="#000"/>
<ellipse cx="921.9" cy="127.5" rx="2.0" ry="1.85" fill="#000"/>
<ellipse cx="929.1" cy="127.5" rx="2.0" ry="1.85" fill="#000"/>
<ellipse cx="936.2" cy="127.5" rx="2.0" ry="1.85" fill="#000"/>
<ellipse cx="943.4" cy="127.5" rx="2.0" ry="1.85" fill="#000"/>
<ellipse cx="950.5" cy="127.5" rx="2.0" ry="1.85" fill="#000"/>
<ellipse cx="957.7" cy="127.5" rx="2.0" ry="1.85" fill="#000"/>
<ellipse cx="964.8" cy="127.5" rx="2.0" ry="1.85" fill="#000"/>
<ellipse cx="893.3" cy="152.3" rx="2.0" ry="1.85" fill="#000"/>
<ellipse cx="900.4" cy="152.3" rx="2.0" ry="1.85" fill="#000"/>
<ellipse cx="907.6" cy="152.3" rx="2.0" ry="1.85" fill="#000"/>
<ellipse cx="914.8" cy="152.3" rx="2.0" ry="1.85" fill="#000"/>
<ellipse cx="921.9" cy="152.3" rx="2.0" ry="1.85" fill="#000"/>
<ellipse cx="929.0" cy="152.3" rx="2.0" ry="1.85" fill="#000"/>
<ellipse cx="936.2" cy="152.3" rx="2.0" ry="1.85" fill="#000"/>
<ellipse cx="943.3" cy="152.3" rx="2.0" ry="1.85" fill="#000"/>
<ellipse cx="950.5" cy="152.3" rx="2.0" ry="1.85" fill="#000"/>
<ellipse cx="957.6" cy="152.3" rx="2.0" ry="1.85" fill="#000"/>
<ellipse cx="964.8" cy="152.3" rx="2.0" ry="1.85" fill="#000"/>
<ellipse cx="842.6" cy="176.5" rx="2.0" ry="1.85" fill="#000"/>
<ellipse cx="849.8" cy="176.5" rx="2.0" ry="1.85" fill="#000"/>
<ellipse cx="857.0" cy="176.5" rx="2.0" ry="1.85" fill="#000"/>
<ellipse cx="864.2" cy="176.5" rx="2.0" ry="1.85" fill="#000"/>
<ellipse cx="871.4" cy="176.5" rx="2.0" ry="1.85" fill="#000"/>
<ellipse cx="878.5" cy="176.5" rx="2.0" ry="1.85" fill="#000"/>
<ellipse cx="885.7" cy="176.5" rx="2.0" ry="1.85" fill="#000"/>
<ellipse cx="892.9" cy="176.5" rx="2.0" ry="1.85" fill="#000"/>
<ellipse cx="900.1" cy="176.5" rx="2.0" ry="1.85" fill="#000"/>
<ellipse cx="907.3" cy="176.5" rx="2.0" ry="1.85" fill="#000"/>
<ellipse cx="914.5" cy="176.5" rx="2.0" ry="1.85" fill="#000"/>
<ellipse cx="921.7" cy="176.5" rx="2.0" ry="1.85" fill="#000"/>
<ellipse cx="928.9" cy="176.5" rx="2.0" ry="1.85" fill="#000"/>
<ellipse cx="936.0" cy="176.5" rx="2.0" ry="1.85" fill="#000"/>
<ellipse cx="943.2" cy="176.5" rx="2.0" ry="1.85" fill="#000"/>
<ellipse cx="950.4" cy="176.5" rx="2.0" ry="1.85" fill="#000"/>
<ellipse cx="957.6" cy="176.5" rx="2.0" ry="1.85" fill="#000"/>
<ellipse cx="964.8" cy="176.5" rx="2.0" ry="1.85" fill="#000"/>
<ellipse cx="821.3" cy="201.3" rx="2.0" ry="1.85" fill="#000"/>
<ellipse cx="828.5" cy="201.3" rx="2.0" ry="1.85" fill="#000"/>
<ellipse cx="835.6" cy="201.3" rx="2.0" ry="1.85" fill="#000"/>
<ellipse cx="842.8" cy="201.3" rx="2.0" ry="1.85" fill="#000"/>
<ellipse cx="850.0" cy="201.3" rx="2.0" ry="1.85" fill="#000"/>
<ellipse cx="857.2" cy="201.3" rx="2.0" ry="1.85" fill="#000"/>
<ellipse cx="864.3" cy="201.3" rx="2.0" ry="1.85" fill="#000"/>
<ellipse cx="871.5" cy="201.3" rx="2.0" ry="1.85" fill="#000"/>
<ellipse cx="878.7" cy="201.3" rx="2.0" ry="1.85" fill="#000"/>
<ellipse cx="885.9" cy="201.3" rx="2.0" ry="1.85" fill="#000"/>
<ellipse cx="893.0" cy="201.3" rx="2.0" ry="1.85" fill="#000"/>
<ellipse cx="900.2" cy="201.3" rx="2.0" ry="1.85" fill="#000"/>
<ellipse cx="907.4" cy="201.3" rx="2.0" ry="1.85" fill="#000"/>
<ellipse cx="914.6" cy="201.3" rx="2.0" ry="1.85" fill="#000"/>
<ellipse cx="921.8" cy="201.3" rx="2.0" ry="1.85" fill="#000"/>
<ellipse cx="928.9" cy="201.3" rx="2.0" ry="1.85" fill="#000"/>
<ellipse cx="936.1" cy="201.3" rx="2.0" ry="1.85" fill="#000"/>
<ellipse cx="943.3" cy="201.3" rx="2.0" ry="1.85" fill="#000"/>
<ellipse cx="950.4" cy="201.3" rx="2.0" ry="1.85" fill="#000"/>
<ellipse cx="957.6" cy="201.3" rx="2.0" ry="1.85" fill="#000"/>
<ellipse cx="964.8" cy="201.3" rx="2.0" ry="1.85" fill="#000"/>
<text transform="translate(717.41 577.90) scale(1.1500 1)" font-family='"Liberation Serif", serif' font-weight="normal" font-size="21.0" letter-spacing="0.605" stroke="#000" stroke-width="0.35">Output Max.</text>
<text transform="translate(797.80 602.30) scale(1.1500 1)" font-family='"Liberation Serif", serif' font-weight="normal" font-size="21.0" letter-spacing="0.904" stroke="#000" stroke-width="0.35">Rated</text>
<text transform="translate(717.70 625.80) scale(1.1500 1)" font-family='"Liberation Serif", serif' font-weight="normal" font-size="21.0" letter-spacing="0.485" stroke="#000" stroke-width="0.35">Frequency</text>
<text transform="translate(718.13 650.50) scale(1.1500 1)" font-family='"Liberation Serif", serif' font-weight="normal" font-size="21.0" letter-spacing="0.313" stroke="#000" stroke-width="0.35">Voltage</text>
<text transform="translate(979.49 577.90) scale(1.0397 1)" font-family='"Liberation Serif", serif' font-weight="normal" font-size="22.0" letter-spacing="0.000" stroke="#000" stroke-width="0.35">1200 W</text>
<text transform="translate(979.49 602.30) scale(1.0397 1)" font-family='"Liberation Serif", serif' font-weight="normal" font-size="22.0" letter-spacing="0.000" stroke="#000" stroke-width="0.35">1000 W</text>
<text transform="translate(1004.77 625.80) scale(1.0893 1)" font-family='"Liberation Serif", serif' font-weight="normal" font-size="22.0" letter-spacing="0.000" stroke="#000" stroke-width="0.35">60 Hz</text>
<text transform="translate(991.80 650.50) scale(1.0363 1)" font-family='"Liberation Serif", serif' font-weight="normal" font-size="22.0" letter-spacing="0.000" stroke="#000" stroke-width="0.35">110 V</text>
<ellipse cx="865.3" cy="575.1" rx="2.0" ry="1.85" fill="#000"/>
<ellipse cx="872.4" cy="575.1" rx="2.0" ry="1.85" fill="#000"/>
<ellipse cx="879.6" cy="575.1" rx="2.0" ry="1.85" fill="#000"/>
<ellipse cx="886.7" cy="575.1" rx="2.0" ry="1.85" fill="#000"/>
<ellipse cx="893.9" cy="575.1" rx="2.0" ry="1.85" fill="#000"/>
<ellipse cx="901.0" cy="575.1" rx="2.0" ry="1.85" fill="#000"/>
<ellipse cx="908.2" cy="575.1" rx="2.0" ry="1.85" fill="#000"/>
<ellipse cx="915.3" cy="575.1" rx="2.0" ry="1.85" fill="#000"/>
<ellipse cx="922.4" cy="575.1" rx="2.0" ry="1.85" fill="#000"/>
<ellipse cx="929.6" cy="575.1" rx="2.0" ry="1.85" fill="#000"/>
<ellipse cx="936.7" cy="575.1" rx="2.0" ry="1.85" fill="#000"/>
<ellipse cx="943.9" cy="575.1" rx="2.0" ry="1.85" fill="#000"/>
<ellipse cx="951.0" cy="575.1" rx="2.0" ry="1.85" fill="#000"/>
<ellipse cx="958.2" cy="575.1" rx="2.0" ry="1.85" fill="#000"/>
<ellipse cx="965.3" cy="575.1" rx="2.0" ry="1.85" fill="#000"/>
<ellipse cx="893.8" cy="599.5" rx="2.0" ry="1.85" fill="#000"/>
<ellipse cx="900.9" cy="599.5" rx="2.0" ry="1.85" fill="#000"/>
<ellipse cx="908.1" cy="599.5" rx="2.0" ry="1.85" fill="#000"/>
<ellipse cx="915.2" cy="599.5" rx="2.0" ry="1.85" fill="#000"/>
<ellipse cx="922.4" cy="599.5" rx="2.0" ry="1.85" fill="#000"/>
<ellipse cx="929.5" cy="599.5" rx="2.0" ry="1.85" fill="#000"/>
<ellipse cx="936.7" cy="599.5" rx="2.0" ry="1.85" fill="#000"/>
<ellipse cx="943.8" cy="599.5" rx="2.0" ry="1.85" fill="#000"/>
<ellipse cx="951.0" cy="599.5" rx="2.0" ry="1.85" fill="#000"/>
<ellipse cx="958.1" cy="599.5" rx="2.0" ry="1.85" fill="#000"/>
<ellipse cx="965.3" cy="599.5" rx="2.0" ry="1.85" fill="#000"/>
<ellipse cx="843.1" cy="623.0" rx="2.0" ry="1.85" fill="#000"/>
<ellipse cx="850.3" cy="623.0" rx="2.0" ry="1.85" fill="#000"/>
<ellipse cx="857.5" cy="623.0" rx="2.0" ry="1.85" fill="#000"/>
<ellipse cx="864.7" cy="623.0" rx="2.0" ry="1.85" fill="#000"/>
<ellipse cx="871.9" cy="623.0" rx="2.0" ry="1.85" fill="#000"/>
<ellipse cx="879.0" cy="623.0" rx="2.0" ry="1.85" fill="#000"/>
<ellipse cx="886.2" cy="623.0" rx="2.0" ry="1.85" fill="#000"/>
<ellipse cx="893.4" cy="623.0" rx="2.0" ry="1.85" fill="#000"/>
<ellipse cx="900.6" cy="623.0" rx="2.0" ry="1.85" fill="#000"/>
<ellipse cx="907.8" cy="623.0" rx="2.0" ry="1.85" fill="#000"/>
<ellipse cx="915.0" cy="623.0" rx="2.0" ry="1.85" fill="#000"/>
<ellipse cx="922.2" cy="623.0" rx="2.0" ry="1.85" fill="#000"/>
<ellipse cx="929.4" cy="623.0" rx="2.0" ry="1.85" fill="#000"/>
<ellipse cx="936.5" cy="623.0" rx="2.0" ry="1.85" fill="#000"/>
<ellipse cx="943.7" cy="623.0" rx="2.0" ry="1.85" fill="#000"/>
<ellipse cx="950.9" cy="623.0" rx="2.0" ry="1.85" fill="#000"/>
<ellipse cx="958.1" cy="623.0" rx="2.0" ry="1.85" fill="#000"/>
<ellipse cx="965.3" cy="623.0" rx="2.0" ry="1.85" fill="#000"/>
<ellipse cx="821.8" cy="647.7" rx="2.0" ry="1.85" fill="#000"/>
<ellipse cx="829.0" cy="647.7" rx="2.0" ry="1.85" fill="#000"/>
<ellipse cx="836.1" cy="647.7" rx="2.0" ry="1.85" fill="#000"/>
<ellipse cx="843.3" cy="647.7" rx="2.0" ry="1.85" fill="#000"/>
<ellipse cx="850.5" cy="647.7" rx="2.0" ry="1.85" fill="#000"/>
<ellipse cx="857.7" cy="647.7" rx="2.0" ry="1.85" fill="#000"/>
<ellipse cx="864.8" cy="647.7" rx="2.0" ry="1.85" fill="#000"/>
<ellipse cx="872.0" cy="647.7" rx="2.0" ry="1.85" fill="#000"/>
<ellipse cx="879.2" cy="647.7" rx="2.0" ry="1.85" fill="#000"/>
<ellipse cx="886.4" cy="647.7" rx="2.0" ry="1.85" fill="#000"/>
<ellipse cx="893.5" cy="647.7" rx="2.0" ry="1.85" fill="#000"/>
<ellipse cx="900.7" cy="647.7" rx="2.0" ry="1.85" fill="#000"/>
<ellipse cx="907.9" cy="647.7" rx="2.0" ry="1.85" fill="#000"/>
<ellipse cx="915.1" cy="647.7" rx="2.0" ry="1.85" fill="#000"/>
<ellipse cx="922.2" cy="647.7" rx="2.0" ry="1.85" fill="#000"/>
<ellipse cx="929.4" cy="647.7" rx="2.0" ry="1.85" fill="#000"/>
<ellipse cx="936.6" cy="647.7" rx="2.0" ry="1.85" fill="#000"/>
<ellipse cx="943.8" cy="647.7" rx="2.0" ry="1.85" fill="#000"/>
<ellipse cx="950.9" cy="647.7" rx="2.0" ry="1.85" fill="#000"/>
<ellipse cx="958.1" cy="647.7" rx="2.0" ry="1.85" fill="#000"/>
<ellipse cx="965.3" cy="647.7" rx="2.0" ry="1.85" fill="#000"/>
<text transform="translate(720.01 1026.60) scale(1.1500 1)" font-family='"Liberation Serif", serif' font-weight="normal" font-size="21.0" letter-spacing="0.605" stroke="#000" stroke-width="0.35">Output Max.</text>
<text transform="translate(800.40 1050.80) scale(1.1500 1)" font-family='"Liberation Serif", serif' font-weight="normal" font-size="21.0" letter-spacing="0.904" stroke="#000" stroke-width="0.35">Rated</text>
<text transform="translate(720.30 1075.60) scale(1.1500 1)" font-family='"Liberation Serif", serif' font-weight="normal" font-size="21.0" letter-spacing="0.485" stroke="#000" stroke-width="0.35">Frequency</text>
<text transform="translate(720.73 1099.80) scale(1.1500 1)" font-family='"Liberation Serif", serif' font-weight="normal" font-size="21.0" letter-spacing="0.313" stroke="#000" stroke-width="0.35">Voltage</text>
<text transform="translate(983.03 1026.60) scale(1.0192 1)" font-family='"Liberation Serif", serif' font-weight="normal" font-size="22.0" letter-spacing="0.000" stroke="#000" stroke-width="0.35">1200 W</text>
<text transform="translate(983.03 1050.80) scale(1.0192 1)" font-family='"Liberation Serif", serif' font-weight="normal" font-size="22.0" letter-spacing="0.000" stroke="#000" stroke-width="0.35">1000 W</text>
<text transform="translate(1006.96 1075.60) scale(1.1028 1)" font-family='"Liberation Serif", serif' font-weight="normal" font-size="22.0" letter-spacing="0.000" stroke="#000" stroke-width="0.35">60 Hz</text>
<text transform="translate(996.31 1099.80) scale(1.0231 1)" font-family='"Liberation Serif", serif' font-weight="normal" font-size="22.0" letter-spacing="0.000" stroke="#000" stroke-width="0.35">220 V</text>
<ellipse cx="867.9" cy="1023.8" rx="2.0" ry="1.85" fill="#000"/>
<ellipse cx="875.0" cy="1023.8" rx="2.0" ry="1.85" fill="#000"/>
<ellipse cx="882.2" cy="1023.8" rx="2.0" ry="1.85" fill="#000"/>
<ellipse cx="889.3" cy="1023.8" rx="2.0" ry="1.85" fill="#000"/>
<ellipse cx="896.5" cy="1023.8" rx="2.0" ry="1.85" fill="#000"/>
<ellipse cx="903.6" cy="1023.8" rx="2.0" ry="1.85" fill="#000"/>
<ellipse cx="910.8" cy="1023.8" rx="2.0" ry="1.85" fill="#000"/>
<ellipse cx="917.9" cy="1023.8" rx="2.0" ry="1.85" fill="#000"/>
<ellipse cx="925.0" cy="1023.8" rx="2.0" ry="1.85" fill="#000"/>
<ellipse cx="932.2" cy="1023.8" rx="2.0" ry="1.85" fill="#000"/>
<ellipse cx="939.3" cy="1023.8" rx="2.0" ry="1.85" fill="#000"/>
<ellipse cx="946.5" cy="1023.8" rx="2.0" ry="1.85" fill="#000"/>
<ellipse cx="953.6" cy="1023.8" rx="2.0" ry="1.85" fill="#000"/>
<ellipse cx="960.8" cy="1023.8" rx="2.0" ry="1.85" fill="#000"/>
<ellipse cx="967.9" cy="1023.8" rx="2.0" ry="1.85" fill="#000"/>
<ellipse cx="896.4" cy="1048.0" rx="2.0" ry="1.85" fill="#000"/>
<ellipse cx="903.5" cy="1048.0" rx="2.0" ry="1.85" fill="#000"/>
<ellipse cx="910.7" cy="1048.0" rx="2.0" ry="1.85" fill="#000"/>
<ellipse cx="917.9" cy="1048.0" rx="2.0" ry="1.85" fill="#000"/>
<ellipse cx="925.0" cy="1048.0" rx="2.0" ry="1.85" fill="#000"/>
<ellipse cx="932.1" cy="1048.0" rx="2.0" ry="1.85" fill="#000"/>
<ellipse cx="939.3" cy="1048.0" rx="2.0" ry="1.85" fill="#000"/>
<ellipse cx="946.4" cy="1048.0" rx="2.0" ry="1.85" fill="#000"/>
<ellipse cx="953.6" cy="1048.0" rx="2.0" ry="1.85" fill="#000"/>
<ellipse cx="960.8" cy="1048.0" rx="2.0" ry="1.85" fill="#000"/>
<ellipse cx="967.9" cy="1048.0" rx="2.0" ry="1.85" fill="#000"/>
<ellipse cx="845.7" cy="1072.8" rx="2.0" ry="1.85" fill="#000"/>
<ellipse cx="852.9" cy="1072.8" rx="2.0" ry="1.85" fill="#000"/>
<ellipse cx="860.1" cy="1072.8" rx="2.0" ry="1.85" fill="#000"/>
<ellipse cx="867.3" cy="1072.8" rx="2.0" ry="1.85" fill="#000"/>
<ellipse cx="874.5" cy="1072.8" rx="2.0" ry="1.85" fill="#000"/>
<ellipse cx="881.6" cy="1072.8" rx="2.0" ry="1.85" fill="#000"/>
<ellipse cx="888.8" cy="1072.8" rx="2.0" ry="1.85" fill="#000"/>
<ellipse cx="896.0" cy="1072.8" rx="2.0" ry="1.85" fill="#000"/>
<ellipse cx="903.2" cy="1072.8" rx="2.0" ry="1.85" fill="#000"/>
<ellipse cx="910.4" cy="1072.8" rx="2.0" ry="1.85" fill="#000"/>
<ellipse cx="917.6" cy="1072.8" rx="2.0" ry="1.85" fill="#000"/>
<ellipse cx="924.8" cy="1072.8" rx="2.0" ry="1.85" fill="#000"/>
<ellipse cx="932.0" cy="1072.8" rx="2.0" ry="1.85" fill="#000"/>
<ellipse cx="939.1" cy="1072.8" rx="2.0" ry="1.85" fill="#000"/>
<ellipse cx="946.3" cy="1072.8" rx="2.0" ry="1.85" fill="#000"/>
<ellipse cx="953.5" cy="1072.8" rx="2.0" ry="1.85" fill="#000"/>
<ellipse cx="960.7" cy="1072.8" rx="2.0" ry="1.85" fill="#000"/>
<ellipse cx="967.9" cy="1072.8" rx="2.0" ry="1.85" fill="#000"/>
<ellipse cx="824.4" cy="1097.0" rx="2.0" ry="1.85" fill="#000"/>
<ellipse cx="831.6" cy="1097.0" rx="2.0" ry="1.85" fill="#000"/>
<ellipse cx="838.8" cy="1097.0" rx="2.0" ry="1.85" fill="#000"/>
<ellipse cx="845.9" cy="1097.0" rx="2.0" ry="1.85" fill="#000"/>
<ellipse cx="853.1" cy="1097.0" rx="2.0" ry="1.85" fill="#000"/>
<ellipse cx="860.3" cy="1097.0" rx="2.0" ry="1.85" fill="#000"/>
<ellipse cx="867.4" cy="1097.0" rx="2.0" ry="1.85" fill="#000"/>
<ellipse cx="874.6" cy="1097.0" rx="2.0" ry="1.85" fill="#000"/>
<ellipse cx="881.8" cy="1097.0" rx="2.0" ry="1.85" fill="#000"/>
<ellipse cx="889.0" cy="1097.0" rx="2.0" ry="1.85" fill="#000"/>
<ellipse cx="896.1" cy="1097.0" rx="2.0" ry="1.85" fill="#000"/>
<ellipse cx="903.3" cy="1097.0" rx="2.0" ry="1.85" fill="#000"/>
<ellipse cx="910.5" cy="1097.0" rx="2.0" ry="1.85" fill="#000"/>
<ellipse cx="917.7" cy="1097.0" rx="2.0" ry="1.85" fill="#000"/>
<ellipse cx="924.9" cy="1097.0" rx="2.0" ry="1.85" fill="#000"/>
<ellipse cx="932.0" cy="1097.0" rx="2.0" ry="1.85" fill="#000"/>
<ellipse cx="939.2" cy="1097.0" rx="2.0" ry="1.85" fill="#000"/>
<ellipse cx="946.4" cy="1097.0" rx="2.0" ry="1.85" fill="#000"/>
<ellipse cx="953.5" cy="1097.0" rx="2.0" ry="1.85" fill="#000"/>
<ellipse cx="960.7" cy="1097.0" rx="2.0" ry="1.85" fill="#000"/>
<ellipse cx="967.9" cy="1097.0" rx="2.0" ry="1.85" fill="#000"/>
<line x1="593.70" y1="1504.60" x2="606.00" y2="1504.60" stroke="#000" stroke-width="2.0"/>
<line x1="628.00" y1="1505.00" x2="640.70" y2="1505.00" stroke="#000" stroke-width="2.0"/>
<text transform="translate(610.51 1509.80) scale(1.1483 1)" font-family='"Liberation Sans", sans-serif' font-weight="normal" font-size="18.0" letter-spacing="0.000" stroke="#000" stroke-width="0.35">3</text>
</svg></body></html>
